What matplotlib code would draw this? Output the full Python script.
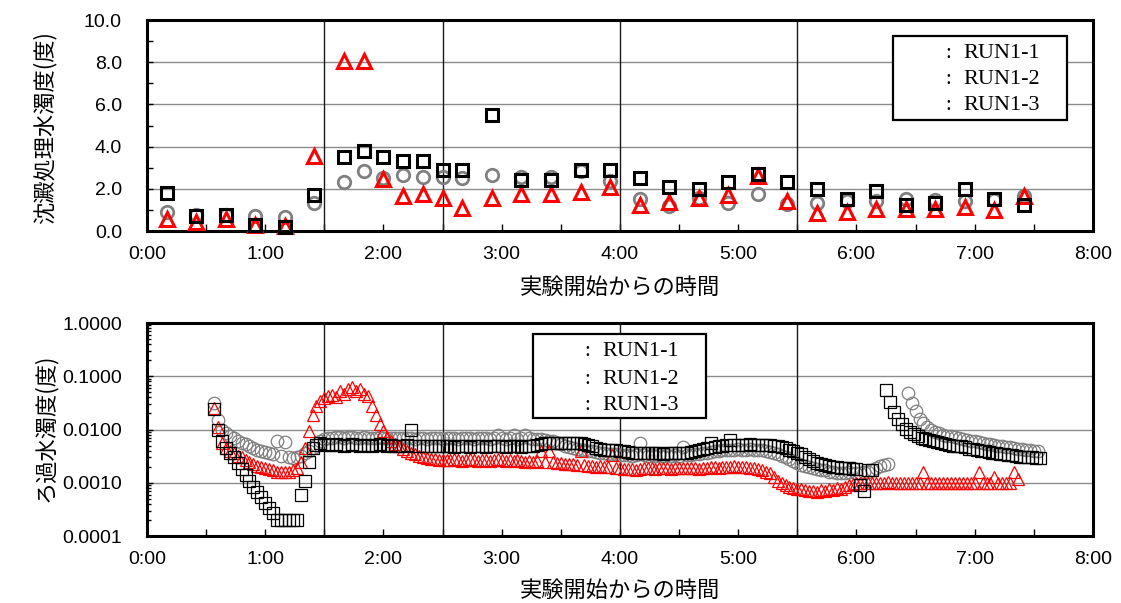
import numpy as np
import matplotlib.pyplot as plt
from matplotlib.ticker import MultipleLocator, FuncFormatter, LogLocator, NullFormatter, FormatStrFormatter
from matplotlib.patches import Rectangle

plt.rcParams['font.family'] = ['Liberation Sans', 'DejaVu Sans']
JP = 'Noto Sans CJK JP'

# ---- settled water turbidity (grab samples), minutes from start ----
settle_time = [10, 25, 40, 55, 70, 85, 100, 110, 120, 130, 140, 150, 160, 175, 190, 205,
               220, 235, 250, 265, 280, 295, 310, 325, 340, 355, 370, 385, 400, 415, 430, 445]
settle_run1 = [0.92, 0.76, 0.76, 0.72, 0.68, 1.35, 2.3, 2.85, 2.5, 2.65, 2.55, 2.55, 2.5, 2.65, 2.55, 2.55,
               2.85, 2.35, 1.5, 1.2, 1.55, 1.35, 1.75, 1.3, 1.35, 1.42, 1.42, 1.5, 1.47, 1.42, 1.47, 1.65]
settle_run2 = [0.57, 0.41, 0.57, 0.28, 0.25, 3.55, 8.05, 8.05, 2.45, 1.66, 1.74, 1.55, 1.08, 1.55, 1.74, 1.74,
               1.87, 2.07, 1.23, 1.39, 1.55, 1.71, 2.61, 1.42, 0.84, 0.92, 1.04, 1.04, 1.02, 1.15, 0.99, 1.64]
settle_run3 = [1.8, 0.72, 0.75, 0.3, 0.2, 1.7, 3.5, 3.8, 3.5, 3.3, 3.3, 2.9, 2.9, 5.5, 2.4, 2.4,
               2.9, 2.9, 2.5, 2.1, 2.0, 2.3, 2.7, 2.3, 2.0, 1.5, 1.9, 1.25, 1.35, 2.0, 1.5, 1.25]

# ---- filtered water turbidity (continuous meter), logged every 2 min ----
fil_step = 2
fil_start = 34
fil_run1 = [0.032, 0.015, 0.0098, 0.0085, 0.0075, 0.0068, 0.0062, 0.0057, 0.0053, 0.0049, 0.0045, 0.0042, 0.004, 0.0038, 0.0036,
            0.0034, 0.006, 0.0032, 0.0058, 0.003, 0.0029, 0.003, 0.0032, 0.0036, 0.004, 0.0045, 0.0052, 0.006, 0.0066, 0.0069,
            0.007, 0.0072, 0.0071, 0.007, 0.0072, 0.0071, 0.007, 0.0069, 0.0071, 0.007, 0.0069, 0.007, 0.0071, 0.0069, 0.0068,
            0.0069, 0.007, 0.0068, 0.0069, 0.007, 0.0068, 0.0067, 0.0069, 0.0068, 0.0067, 0.0068, 0.0069, 0.0068, 0.0067, 0.0068,
            0.0068, 0.0069, 0.0067, 0.0068, 0.0069, 0.0068, 0.0067, 0.0068, 0.0069, 0.0068, 0.0067, 0.0068, 0.0078, 0.0069, 0.0067,
            0.0068, 0.0078, 0.0067, 0.0068, 0.0079, 0.0068, 0.0067, 0.0066, 0.0065, 0.0064, 0.0062, 0.006, 0.0057, 0.0054, 0.005,
            0.0047, 0.0045, 0.0043, 0.0042, 0.0041, 0.004, 0.0039, 0.0038, 0.0037, 0.0036, 0.0035, 0.0034, 0.0034, 0.0033, 0.0033,
            0.0033, 0.0032, 0.0033, 0.0056, 0.0033, 0.0032, 0.0033, 0.0032, 0.0033, 0.0032, 0.0033, 0.0032, 0.0033, 0.0032, 0.0047,
            0.0033, 0.0033, 0.0034, 0.0035, 0.0036, 0.0037, 0.0038, 0.0039, 0.004, 0.0041, 0.0041, 0.0042, 0.0042, 0.0043, 0.0042,
            0.0042, 0.0043, 0.0042, 0.0042, 0.0041, 0.004, 0.0038, 0.0036, 0.0034, 0.0032, 0.003, 0.0028, 0.0026, 0.0024, 0.0022,
            0.0021, 0.002, 0.0019, 0.0018, 0.0017, 0.0017, 0.0016, 0.0016, 0.0015, 0.0015, 0.0015, 0.0016, 0.0019, 0.0015, 0.0015,
            0.0016, 0.0016, 0.0017, 0.0019, 0.0021, 0.0022, 0.0023]
fil_run2 = [0.025, 0.011, 0.0056, 0.0045, 0.004, 0.0036, 0.0032, 0.003, 0.0027, 0.0025, 0.0023, 0.0021, 0.002, 0.0019, 0.0018,
            0.0017, 0.0016, 0.0016, 0.0016, 0.0016, 0.0017, 0.0019, 0.0025, 0.0045, 0.0095, 0.019, 0.028, 0.034, 0.039, 0.042,
            0.044, 0.04, 0.052, 0.046, 0.058, 0.063, 0.052, 0.058, 0.047, 0.042, 0.028, 0.019, 0.0127, 0.0095, 0.0072,
            0.006, 0.0054, 0.0048, 0.0044, 0.004, 0.0037, 0.0035, 0.0032, 0.003, 0.0029, 0.0028, 0.0028, 0.0027, 0.0027, 0.0027,
            0.0027, 0.0028, 0.0027, 0.0026, 0.0027, 0.0028, 0.0027, 0.0026, 0.0027, 0.0027, 0.0026, 0.0027, 0.0028, 0.0027, 0.0026,
            0.0027, 0.0026, 0.0027, 0.0026, 0.0025, 0.0026, 0.0025, 0.0026, 0.004, 0.0025, 0.004, 0.0025, 0.0024, 0.0024, 0.0023,
            0.0023, 0.0023, 0.0022, 0.004, 0.0022, 0.0021, 0.0021, 0.002, 0.0021, 0.002, 0.002, 0.0033, 0.0019, 0.0019, 0.0018,
            0.0018, 0.0018, 0.0017, 0.0018, 0.0019, 0.0019, 0.0019, 0.0018, 0.0019, 0.0019, 0.0019, 0.0018, 0.0019, 0.0019, 0.0019,
            0.0019, 0.0019, 0.0019, 0.0018, 0.0019, 0.0019, 0.002, 0.002, 0.0019, 0.002, 0.002, 0.002, 0.0021, 0.002, 0.002,
            0.002, 0.0019, 0.0019, 0.0018, 0.0017, 0.0016, 0.0015, 0.0013, 0.0011, 0.001, 0.0009, 0.00085, 0.0008, 0.00078, 0.00075,
            0.00072, 0.0007, 0.0007, 0.00068, 0.00072, 0.0007, 0.00075, 0.00072, 0.0008, 0.00078, 0.00085, 0.0009, 0.00095, 0.001, 0.001,
            0.001, 0.00098, 0.001, 0.001, 0.00098, 0.001, 0.00105, 0.001, 0.001, 0.00098, 0.001, 0.001, 0.001, 0.00098, 0.001,
            0.0016, 0.001, 0.001, 0.00098, 0.001, 0.001, 0.001, 0.00098, 0.001, 0.001, 0.001, 0.00098, 0.001, 0.001, 0.0016,
            0.001, 0.001, 0.00098, 0.0013, 0.001, 0.001, 0.001, 0.00098, 0.0016, 0.0012]
fil_run3 = [0.024, 0.0098, 0.006, 0.0045, 0.0036, 0.003, 0.0024, 0.0018, 0.0014, 0.0011, 0.00085, 0.00068, 0.00055, 0.00042, 0.00034,
            0.00027, 0.0002, 0.0002, 0.0002, 0.0002, 0.0002, 0.0002, 0.00058, 0.0011, 0.0025, 0.0045, 0.0052, 0.0055, 0.0054, 0.0052,
            0.0051, 0.0053, 0.0052, 0.005, 0.0052, 0.0054, 0.0051, 0.005, 0.0052, 0.0051, 0.005, 0.0052, 0.0053, 0.0051, 0.005,
            0.0051, 0.005, 0.0049, 0.005, 0.0051, 0.0098, 0.0049, 0.0048, 0.005, 0.0049, 0.0048, 0.0049, 0.005, 0.0049, 0.0048,
            0.0048, 0.0047, 0.0048, 0.0049, 0.0048, 0.0047, 0.0048, 0.0049, 0.0048, 0.0047, 0.0048, 0.0048, 0.0049, 0.0048, 0.0047,
            0.0048, 0.0049, 0.0048, 0.0047, 0.0048, 0.0049, 0.005, 0.0052, 0.0054, 0.0055, 0.0056, 0.0056, 0.0055, 0.0056, 0.0055,
            0.0056, 0.0055, 0.0056, 0.0055, 0.0054, 0.0052, 0.0048, 0.0045, 0.0043, 0.0042, 0.0042, 0.0041, 0.0041, 0.004, 0.0039,
            0.0038, 0.0037, 0.0037, 0.0036, 0.0037, 0.0036, 0.0036, 0.0037, 0.0036, 0.0035, 0.0036, 0.0036, 0.0037, 0.0036, 0.0037,
            0.0037, 0.0038, 0.0039, 0.0041, 0.0043, 0.0045, 0.0056, 0.0047, 0.0049, 0.005, 0.0051, 0.0063, 0.0052, 0.0051, 0.0052,
            0.0052, 0.0053, 0.0052, 0.0051, 0.0052, 0.0052, 0.0051, 0.005, 0.0049, 0.0047, 0.0045, 0.0042, 0.004, 0.0037, 0.0034,
            0.0031, 0.0028, 0.0026, 0.0024, 0.0023, 0.0022, 0.0021, 0.002, 0.002, 0.0019, 0.0019, 0.0019, 0.0018, 0.0018, 0.0009,
            0.0007, 0.0017, 0.0017]

# second filter run after backwash
fil_run1_b_start = 386
fil_run1_b = [0.048, 0.032, 0.022, 0.016, 0.013, 0.011, 0.0098, 0.009, 0.0085, 0.008,
              0.0077, 0.0074, 0.0071, 0.0068, 0.0066, 0.0064, 0.0062, 0.006, 0.0058, 0.0056,
              0.0054, 0.0053, 0.0051, 0.005, 0.0049, 0.0047, 0.0046, 0.0045, 0.0044, 0.0043,
              0.0042, 0.0041, 0.004, 0.0039]
fil_run3_b_start = 375
fil_run3_b = [0.055, 0.033, 0.021, 0.016, 0.0125, 0.0102, 0.009, 0.0082, 0.0075, 0.007,
              0.0066, 0.0063, 0.006, 0.0058, 0.0056, 0.0054, 0.0052, 0.005, 0.0049, 0.0048,
              0.0046, 0.0044, 0.0043, 0.0041, 0.004, 0.0039, 0.0038, 0.0037, 0.0036, 0.0035,
              0.0034, 0.0033, 0.0033, 0.0032, 0.0031, 0.0031, 0.003, 0.003, 0.0029, 0.0029]

run_labels = ['RUN1-1', 'RUN1-2', 'RUN1-3']
guide_min = [90, 150, 240, 330]   # operation change markers


def times(start, vals):
    return start + fil_step * np.arange(len(vals))


def hmm(x, pos):
    return '%d:%02d' % (x // 60, x % 60)


fig = plt.figure(figsize=(11.21, 6.03), dpi=100)
ax1 = fig.add_axes([0.1311, 0.6169, 0.8439, 0.3499])
ax2 = fig.add_axes([0.1311, 0.1111, 0.8439, 0.3532])

for ax in (ax1, ax2):
    ax.set_xlim(0, 480)
    ax.xaxis.set_major_locator(MultipleLocator(60))
    ax.xaxis.set_minor_locator(MultipleLocator(30))
    ax.xaxis.set_major_formatter(FuncFormatter(hmm))
    ax.tick_params(axis='x', which='both', direction='in', length=5, width=1, pad=11, labelsize=14)
    ax.tick_params(axis='y', which='both', direction='in', length=4, width=1, pad=18, labelsize=14)
    for s in ax.spines.values():
        s.set_linewidth(2.2)
    for g in guide_min:
        ax.axvline(g, color='#1a1a1a', lw=1.0, zorder=1)
    ax.set_axisbelow(True)

# top: settled water
ax1.set_ylim(0, 10)
ax1.yaxis.set_major_locator(MultipleLocator(2))
ax1.yaxis.set_minor_locator(MultipleLocator(1))
ax1.yaxis.set_major_formatter(FormatStrFormatter('%.1f'))
ax1.grid(axis='y', which='major', color='#8c8c8c', lw=1.0)
ax1.plot(settle_time, settle_run1, 'o', ms=9, mfc='none', mec='#808080', mew=2.0, clip_on=False, zorder=3)
ax1.plot(settle_time, settle_run2, '^', ms=10, mfc='none', mec='#ff0000', mew=2.2, clip_on=False, zorder=4)
ax1.plot(settle_time, settle_run3, 's', ms=9, mfc='none', mec='black', mew=2.2, clip_on=False, zorder=5)

# bottom: filtered water (log)
ax2.set_yscale('log')
ax2.set_ylim(1e-4, 1)
ax2.yaxis.set_major_locator(LogLocator(base=10))
ax2.yaxis.set_minor_locator(LogLocator(base=10, subs=np.arange(2, 10)))
ax2.yaxis.set_minor_formatter(NullFormatter())
ax2.yaxis.set_major_formatter(FormatStrFormatter('%.4f'))
ax2.grid(axis='y', which='major', color='#8c8c8c', lw=1.0)
ax2.tick_params(axis='y', which='minor', length=3)
mk = dict(ls='none', mfc='none', mew=0.9)
ax2.plot(times(fil_start, fil_run1), fil_run1, 'o', ms=9, mec='#808080', zorder=3, **mk)
ax2.plot(times(fil_run1_b_start, fil_run1_b), fil_run1_b, 'o', ms=9, mec='#808080', zorder=3, **mk)
ax2.plot(times(fil_start, fil_run2), fil_run2, '^', ms=9, mec='#ff0000', zorder=4, **mk)
ax2.plot(times(fil_start, fil_run3), fil_run3, 's', ms=8, mec='black', zorder=5, **mk)
ax2.plot(times(fil_run3_b_start, fil_run3_b), fil_run3_b, 's', ms=8, mec='black', zorder=5, **mk)

# axis titles
W, H = 1121, 603
fig.text(620 / W, 1 - 287 / H, '実験開始からの時間', fontfamily=JP, fontsize=16, ha='center', va='center')
fig.text(620 / W, 1 - 590 / H, '実験開始からの時間', fontfamily=JP, fontsize=16, ha='center', va='center')
fig.text(45 / W, 1 - 128 / H, '沈澱処理水濁度(度)', fontfamily=JP, fontsize=16, rotation=90, ha='center', va='center')
fig.text(45 / W, 1 - 428 / H, 'ろ過水濁度(度)', fontfamily=JP, fontsize=16, rotation=90, ha='center', va='center')


# legend boxes (text only)
def legend_box(x0, y0, x1, y1, colon_x, text_x, rows):
    fig.patches.append(Rectangle((x0 / W, 1 - y1 / H), (x1 - x0) / W, (y1 - y0) / H,
                                 transform=fig.transFigure, fc='white', ec='black', lw=1.6, zorder=10))
    for yy, lab in zip(rows, run_labels):
        fig.text(colon_x / W, 1 - yy / H, ':', fontfamily='Liberation Serif', fontsize=15,
                 ha='center', va='center', zorder=11)
        fig.text(text_x / W, 1 - yy / H, lab, fontfamily='Liberation Serif', fontsize=16,
                 ha='left', va='center', zorder=11)


legend_box(893, 36, 1067, 120, 948, 963, [54, 80, 105])
legend_box(533, 334, 706, 418, 587, 602, [352, 379, 406])

fig.savefig('out.png', dpi=100)
